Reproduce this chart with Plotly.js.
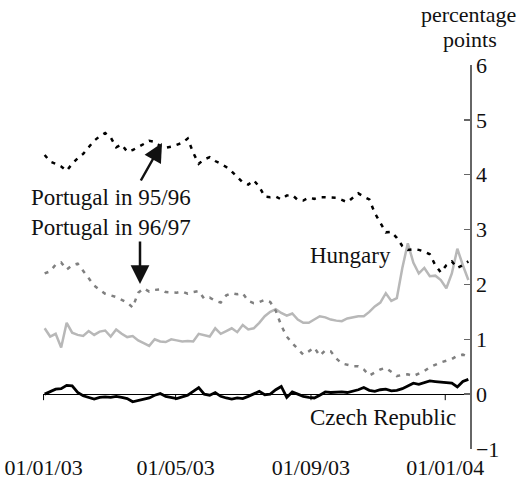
<!DOCTYPE html>
<html>
<head>
<meta charset="utf-8">
<script src="https://cdn.plot.ly/plotly-3.0.1.min.js"></script>
<style>html,body{margin:0;padding:0;background:#fff;}#chart{width:519px;height:479px;}</style>
</head>
<body>
<div id="chart"></div>
<script>
// Observation dates (every 5 days)
const dates = [
"2003-01-02","2003-01-07","2003-01-12","2003-01-17","2003-01-22","2003-01-27",
"2003-02-01","2003-02-06","2003-02-11","2003-02-16","2003-02-21","2003-02-26",
"2003-03-03","2003-03-08","2003-03-13","2003-03-18","2003-03-23","2003-03-28",
"2003-04-02","2003-04-07","2003-04-12","2003-04-17","2003-04-22","2003-04-27",
"2003-05-02","2003-05-07","2003-05-12","2003-05-17","2003-05-22","2003-05-27",
"2003-06-01","2003-06-06","2003-06-11","2003-06-16","2003-06-21","2003-06-26",
"2003-07-01","2003-07-06","2003-07-11","2003-07-16","2003-07-21","2003-07-26",
"2003-07-31","2003-08-05","2003-08-10","2003-08-15","2003-08-20","2003-08-25",
"2003-08-30","2003-09-04","2003-09-09","2003-09-14","2003-09-19","2003-09-24",
"2003-09-29","2003-10-04","2003-10-09","2003-10-14","2003-10-19","2003-10-24",
"2003-10-29","2003-11-03","2003-11-08","2003-11-13","2003-11-18","2003-11-23",
"2003-11-28","2003-12-03","2003-12-08","2003-12-13","2003-12-18","2003-12-23",
"2003-12-28","2004-01-02","2004-01-07","2004-01-12","2004-01-17","2004-01-22"];

const portugal9596 = [
4.36,4.24,4.20,4.15,4.07,4.20,4.30,4.38,4.50,4.62,4.70,4.76,
4.68,4.50,4.55,4.42,4.45,4.50,4.56,4.62,4.60,4.52,4.49,4.51,
4.55,4.58,4.66,4.40,4.20,4.28,4.32,4.25,4.20,4.14,4.06,3.95,
3.86,3.82,3.90,3.78,3.60,3.59,3.60,3.55,3.62,3.63,3.54,3.53,
3.58,3.56,3.59,3.59,3.59,3.58,3.54,3.50,3.58,3.66,3.60,3.55,
3.30,3.13,2.95,2.96,2.85,2.70,2.63,2.64,2.63,2.60,2.55,2.35,
2.22,2.35,2.42,2.30,2.35,2.42];

const portugal9697 = [
2.20,2.24,2.36,2.40,2.27,2.35,2.38,2.25,2.12,1.98,1.90,1.83,
1.80,1.77,1.72,1.67,1.58,1.85,1.93,1.87,1.90,1.91,1.86,1.85,
1.85,1.87,1.83,1.86,1.88,1.74,1.76,1.70,1.67,1.80,1.84,1.82,
1.84,1.70,1.66,1.68,1.72,1.68,1.52,1.25,1.05,0.93,0.82,0.72,
0.78,0.85,0.70,0.80,0.78,0.65,0.56,0.53,0.51,0.51,0.45,0.34,
0.40,0.45,0.48,0.40,0.33,0.35,0.36,0.33,0.38,0.42,0.49,0.54,
0.58,0.61,0.64,0.70,0.72,0.68];

const hungary = [
1.20,1.05,1.10,0.85,1.30,1.12,1.08,1.06,1.15,1.08,1.14,1.16,
1.05,1.18,1.10,1.04,1.06,0.98,0.93,0.88,1.00,0.96,0.95,1.00,
0.98,0.96,0.97,0.96,1.10,1.08,1.05,1.20,1.10,1.15,1.20,1.13,
1.26,1.18,1.20,1.30,1.42,1.50,1.55,1.48,1.43,1.47,1.36,1.30,
1.30,1.36,1.42,1.40,1.36,1.34,1.33,1.38,1.40,1.42,1.42,1.50,
1.60,1.67,1.84,1.70,1.75,2.30,2.75,2.40,2.20,2.30,2.15,2.16,
2.08,1.93,2.20,2.65,2.35,2.08];

const czech = [
0.00,0.04,0.09,0.10,0.16,0.15,0.03,-0.03,-0.06,-0.09,-0.06,-0.05,
-0.06,-0.04,-0.06,-0.08,-0.14,-0.12,-0.10,-0.07,-0.02,0.01,-0.04,-0.06,
-0.08,-0.05,-0.02,0.05,0.12,0.00,-0.02,0.03,-0.04,-0.07,-0.09,-0.07,
-0.08,-0.04,0.00,0.05,-0.01,0.00,0.08,0.14,-0.06,0.04,0.00,-0.04,
-0.06,-0.07,-0.02,0.04,0.03,0.04,0.04,0.03,0.05,0.08,0.12,0.07,
0.05,0.08,0.09,0.06,0.07,0.10,0.15,0.20,0.18,0.21,0.24,0.23,
0.22,0.22,0.20,0.13,0.23,0.27];

const tickDates = ["2003-01-01","2003-05-01","2003-09-01","2004-01-01"];
const tickLabels = ["01/01/03","01/05/03","01/09/03","01/01/04"];

const FONT = "Liberation Serif, Times New Roman, serif";

const traces = [
  {x: dates, y: hungary, type: "scatter", mode: "lines", name: "Hungary",
   line: {color: "#b8b8b8", width: 2.5}},
  {x: dates, y: portugal9697, type: "scatter", mode: "lines", name: "Portugal in 96/97",
   line: {color: "#808080", width: 2.5, dash: "4px,6px"}},
  {x: dates, y: portugal9596, type: "scatter", mode: "lines", name: "Portugal in 95/96",
   line: {color: "#000000", width: 2.5, dash: "4px,6px"}},
  {x: dates, y: czech, type: "scatter", mode: "lines", name: "Czech Republic",
   line: {color: "#000000", width: 2.8}}
];

const shapes = tickDates.map(d => ({
  type: "line", xref: "x", yref: "y", x0: d, x1: d, y0: 0, y1: -0.11,
  line: {color: "#000", width: 1}, layer: "below"
}));

const annotations = [
  {xref: "paper", yref: "paper", x: 1.0, y: 1.0, yshift: 51, xshift: -2, text: "percentage",
   showarrow: false, xanchor: "center", yanchor: "middle", font: {size: 22, color: "#111"}},
  {xref: "paper", yref: "paper", x: 1.0, y: 1.0, yshift: 26, text: "points",
   showarrow: false, xanchor: "center", yanchor: "middle", font: {size: 22, color: "#111"}},
  {xref: "paper", yref: "paper", x: -0.033, y: (449 - 197) / 384, text: "Portugal in 95/96",
   showarrow: false, xanchor: "left", yanchor: "middle", font: {size: 23, color: "#111"}},
  {xref: "paper", yref: "paper", x: -0.033, y: (449 - 227) / 384, text: "Portugal in 96/97",
   showarrow: false, xanchor: "left", yanchor: "middle", font: {size: 23, color: "#111"}},
  {xref: "paper", yref: "paper", x: (350 - 43) / 427, y: (449 - 255) / 384, text: "Hungary",
   showarrow: false, xanchor: "center", yanchor: "middle", font: {size: 23, color: "#111"}},
  {xref: "paper", yref: "paper", x: (383 - 43) / 427, y: (449 - 417) / 384, text: "Czech Republic",
   showarrow: false, xanchor: "center", yanchor: "middle", font: {size: 23, color: "#111"}},
  {xref: "paper", yref: "paper", x: (162 - 43) / 427, y: (449 - 143) / 384, text: "",
   showarrow: true, arrowhead: 2, arrowsize: 1.5, arrowwidth: 2.5, arrowcolor: "#111",
   ax: -22, ay: 39},
  {xref: "paper", yref: "paper", x: (140 - 43) / 427, y: (449 - 284) / 384, text: "",
   showarrow: true, arrowhead: 2, arrowsize: 1.5, arrowwidth: 2.5, arrowcolor: "#111",
   ax: 0, ay: -44}
];

const layout = {
  width: 519, height: 479,
  margin: {l: 43, r: 49, t: 65, b: 30, pad: 0},
  paper_bgcolor: "#fff", plot_bgcolor: "#fff",
  showlegend: false,
  font: {family: FONT, size: 22, color: "#111"},
  xaxis: {
    type: "date", range: ["2002-12-31 12:00", "2004-01-23 12:00"],
    tickvals: tickDates, ticktext: tickLabels, ticks: "",
    showline: false, showgrid: false, zeroline: false,
    ticklabelstandoff: 3,
    tickfont: {size: 22, color: "#111"}
  },
  yaxis: {
    side: "right", range: [-1, 6], dtick: 1, tick0: 0,
    ticks: "inside", ticklen: 6, tickcolor: "#666", tickwidth: 1.5,
    showline: true, linecolor: "#666", linewidth: 1.5,
    showgrid: false, zeroline: true, zerolinecolor: "#000", zerolinewidth: 1,
    tickfont: {size: 22, color: "#111"}
  },
  shapes: shapes,
  annotations: annotations
};

Plotly.newPlot("chart", traces, layout, {displayModeBar: false, staticPlot: true});
</script>
</body>
</html>
